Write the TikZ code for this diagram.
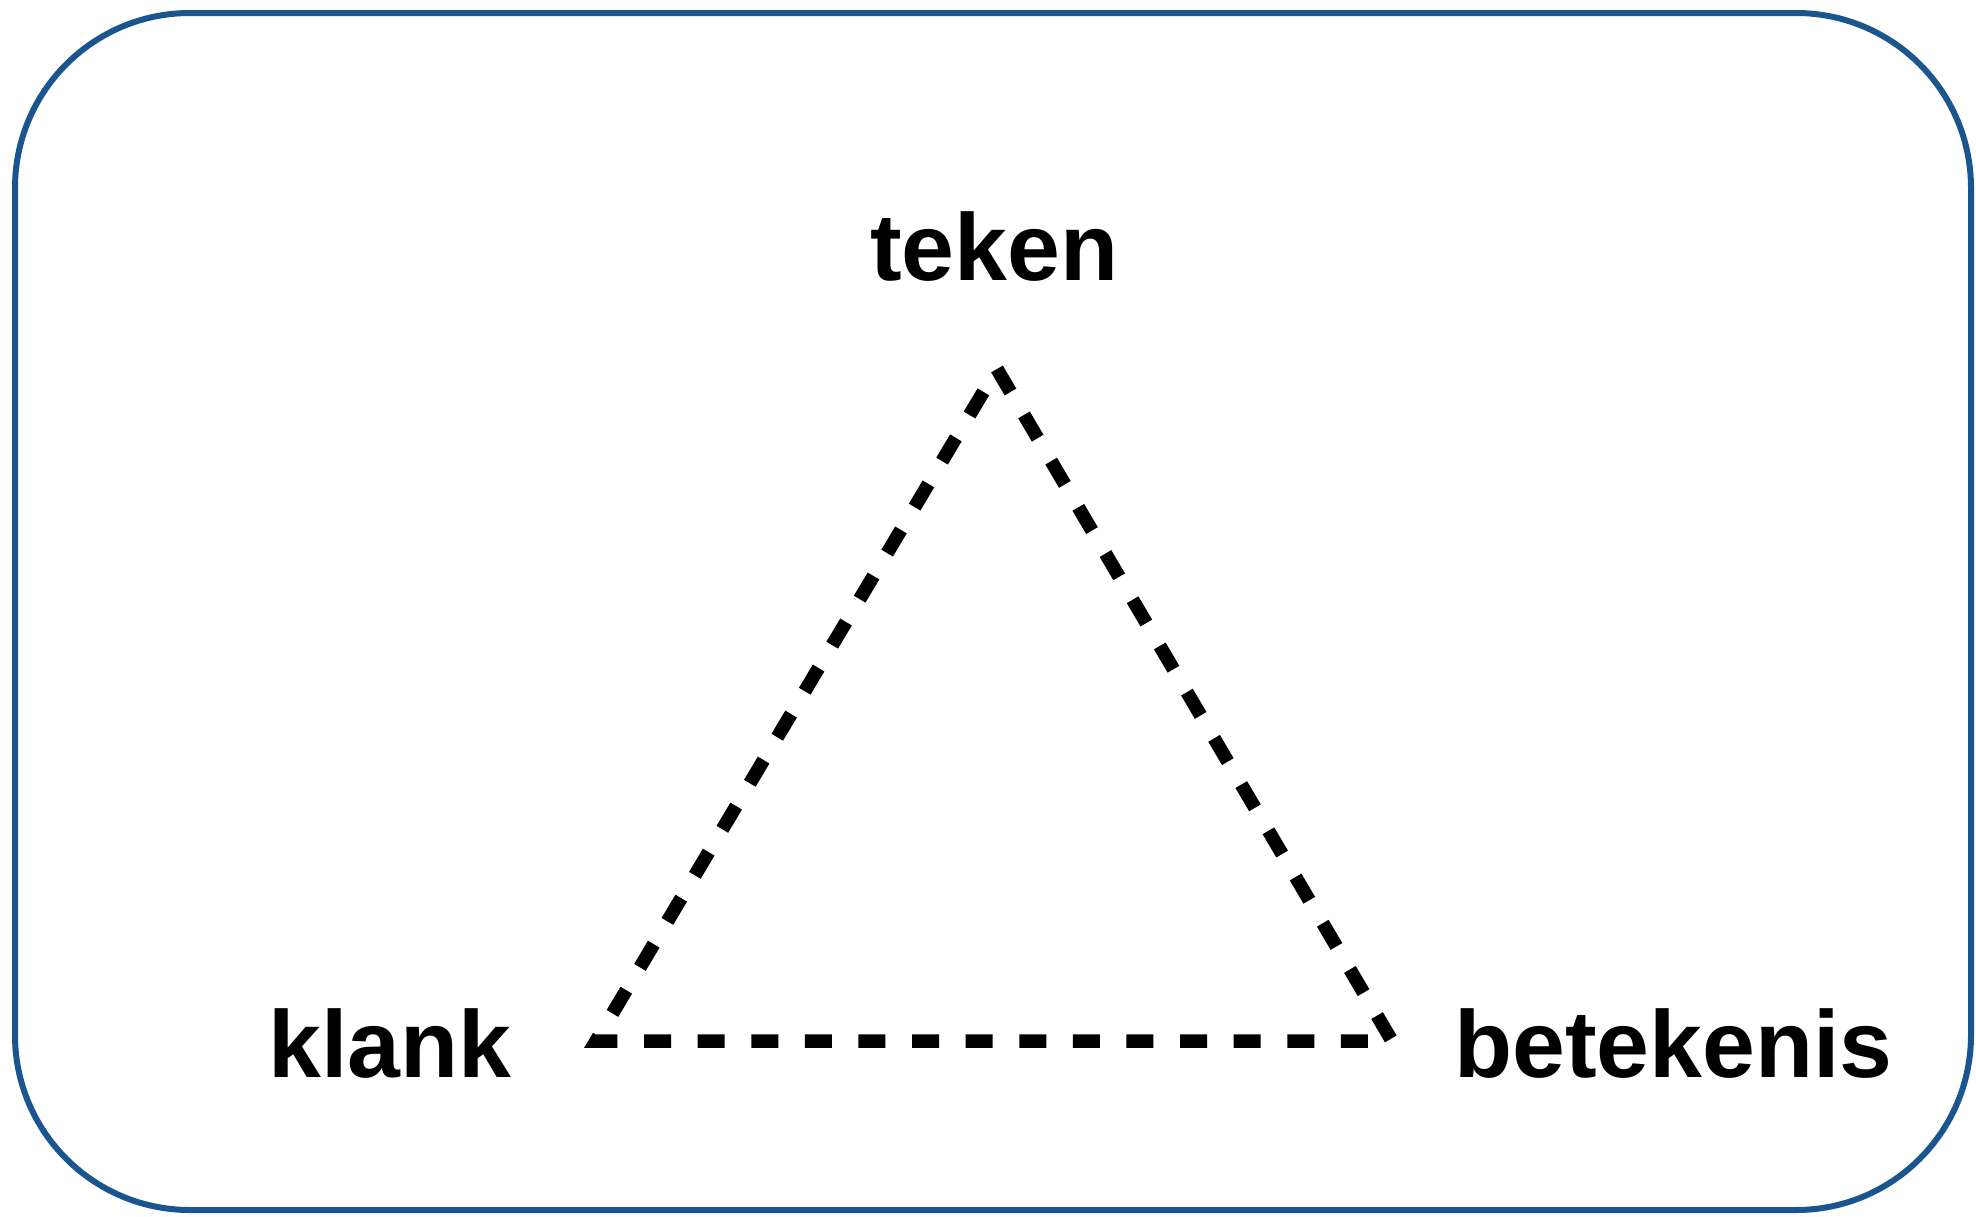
\documentclass[tikz,border=0pt]{standalone}
\usepackage{fontspec}
\setmainfont{Liberation Sans}
\begin{document}
\begin{tikzpicture}[x=1pt,y=-1pt,
  lbl/.style={anchor=base west,inner sep=0pt,font=\fontsize{95}{100}\selectfont\bfseries},
  frame/.style={draw=borderblue,line width=6pt,rounded corners=175pt},
  tri/.style={draw=black,line width=13.5pt,dash pattern=on 27pt off 26.6pt,dash phase=27pt,line join=miter}]
\definecolor{borderblue}{HTML}{1A5590}
\useasboundingbox (0,0) rectangle (1976,1216);
\draw[frame] (15,13) rectangle (1971,1210);
\node[lbl] (teken) at (870,280) {teken};
\node[lbl] (klank) at (268,1077) {klank};
\node[lbl] (betekenis) at (1454,1077) {betekenis};
\coordinate (top) at (997,369);
\coordinate (bl) at (596,1041);
\coordinate (br) at (1392,1041);
\draw[tri] (top) -- (bl) -- (br) -- (top);
\end{tikzpicture}
\end{document}
